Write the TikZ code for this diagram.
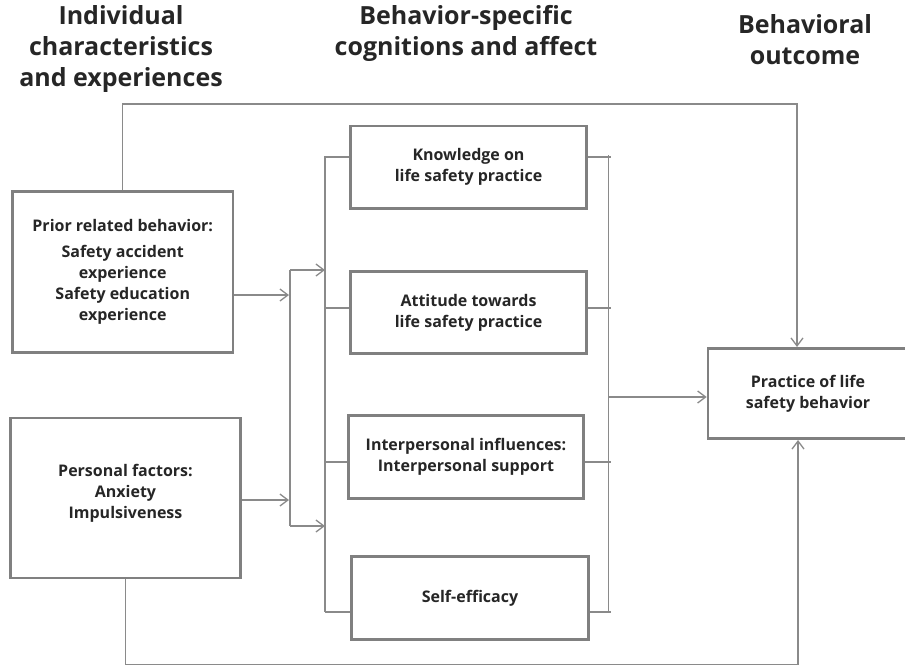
\documentclass[tikz,border=0pt]{standalone}
\usepackage{fontspec}
\setmainfont{Open Sans}
\newfontfamily\headfont{Open Sans}
\usetikzlibrary{arrows.meta}
\definecolor{bord}{HTML}{808080}
\definecolor{lin}{HTML}{8A8A8A}
\definecolor{txt}{HTML}{262626}
\begin{document}
\begin{tikzpicture}[x=1pt,y=-1pt,
  box/.style={draw=bord, line width=2.6pt, fill=white, inner sep=0pt, align=center,
    text=txt, font=\bfseries\fontsize{16}{21}\selectfont},
  head/.style={align=center, text=txt, font=\headfont\bfseries\fontsize{25}{31}\selectfont},
  conn/.style={draw=lin, line width=1.3pt},
  arr/.style={conn, -{Straight Barb[length=8pt,width=12pt,line width=1.3pt]}}]
\useasboundingbox (0,0) rectangle (905,665);
\clip (0,0) rectangle (905,665);

% headers
\node[head] (h1) at (121,49) {Individual\\characteristics\\and experiences};
\node[head] (h2) at (466,33) {Behavior-specific\\cognitions and affect};
\node[head] (h3) at (805,40) {Behavioral\\outcome};

% coordinates
\coordinate (topy) at (0,104);
\coordinate (tin) at (797,347);
\coordinate (bin) at (798,440);
\coordinate (pa) at (289,295);
\coordinate (pb) at (289,500);
\coordinate (bt) at (290,270);
\coordinate (bb) at (290,526);
\coordinate (lv) at (325,0);
\coordinate (rvt) at (608.5,155);
\coordinate (rvb) at (608.5,612);
\coordinate (lvt) at (325,156);
\coordinate (lvb) at (325,612);
\coordinate (out) at (608.5,397);

% boxes
\node[box, minimum width=220.5pt, minimum height=161pt] (prior) at (122.75,272)
  {Prior related behavior:\\[5pt]Safety accident\\experience\\Safety education\\experience};
\node[box, minimum width=230pt, minimum height=160pt] (personal) at (125.5,498) {};
\node[align=center, text=txt, font=\bfseries\fontsize{16}{21}\selectfont] (ptext) at (125.5,493)
  {Personal factors:\\Anxiety\\Impulsiveness};
\node[box, minimum width=236pt, minimum height=82.5pt] (know) at (468.5,167.25)
  {Knowledge on\\life safety practice};
\node[box, minimum width=236pt, minimum height=82pt] (att) at (468.5,312.5)
  {Attitude towards\\life safety practice};
\node[box, minimum width=235pt, minimum height=82.5pt] (inter) at (466,457)
  {Interpersonal influences:\\Interpersonal support};
\node[box, minimum width=237pt, minimum height=82.5pt] (self) at (470,598)
  {Self-efficacy};
\node[box, minimum width=202pt, minimum height=90pt] (practice) at (809,393.5) {};
\node[align=center, text=txt, font=\bfseries\fontsize{16}{21}\selectfont] (prtext) at (808,393.5)
  {Practice of life\\safety behavior};

% connectors
\draw[arr] (prior.north) -- (prior.north |- topy) -| (tin);
\draw[arr] (personal.south) -- ++(0,85) -| (bin);
\draw[arr] (prior.east |- pa) -- (pa);
\draw[arr] (personal.east |- pb) -- (pb);
\draw[conn] (bt) -- (bb);
\draw[arr] (bt) -- (bt -| lv);
\draw[arr] (bb) -- (bb -| lv);
\draw[conn] (lvt) -- (lvb);
\draw[conn] (rvt) -- (rvb);
\foreach \b/\y in {know/157,att/308,inter/462,self/612}{
  \draw[conn] (\b.west |- 0,\y) -- (325,\y);
  \draw[conn] (\b.east |- 0,\y) -- (611,\y);
}
\draw[arr] (out) -- (practice.west |- out);
\end{tikzpicture}
\end{document}
